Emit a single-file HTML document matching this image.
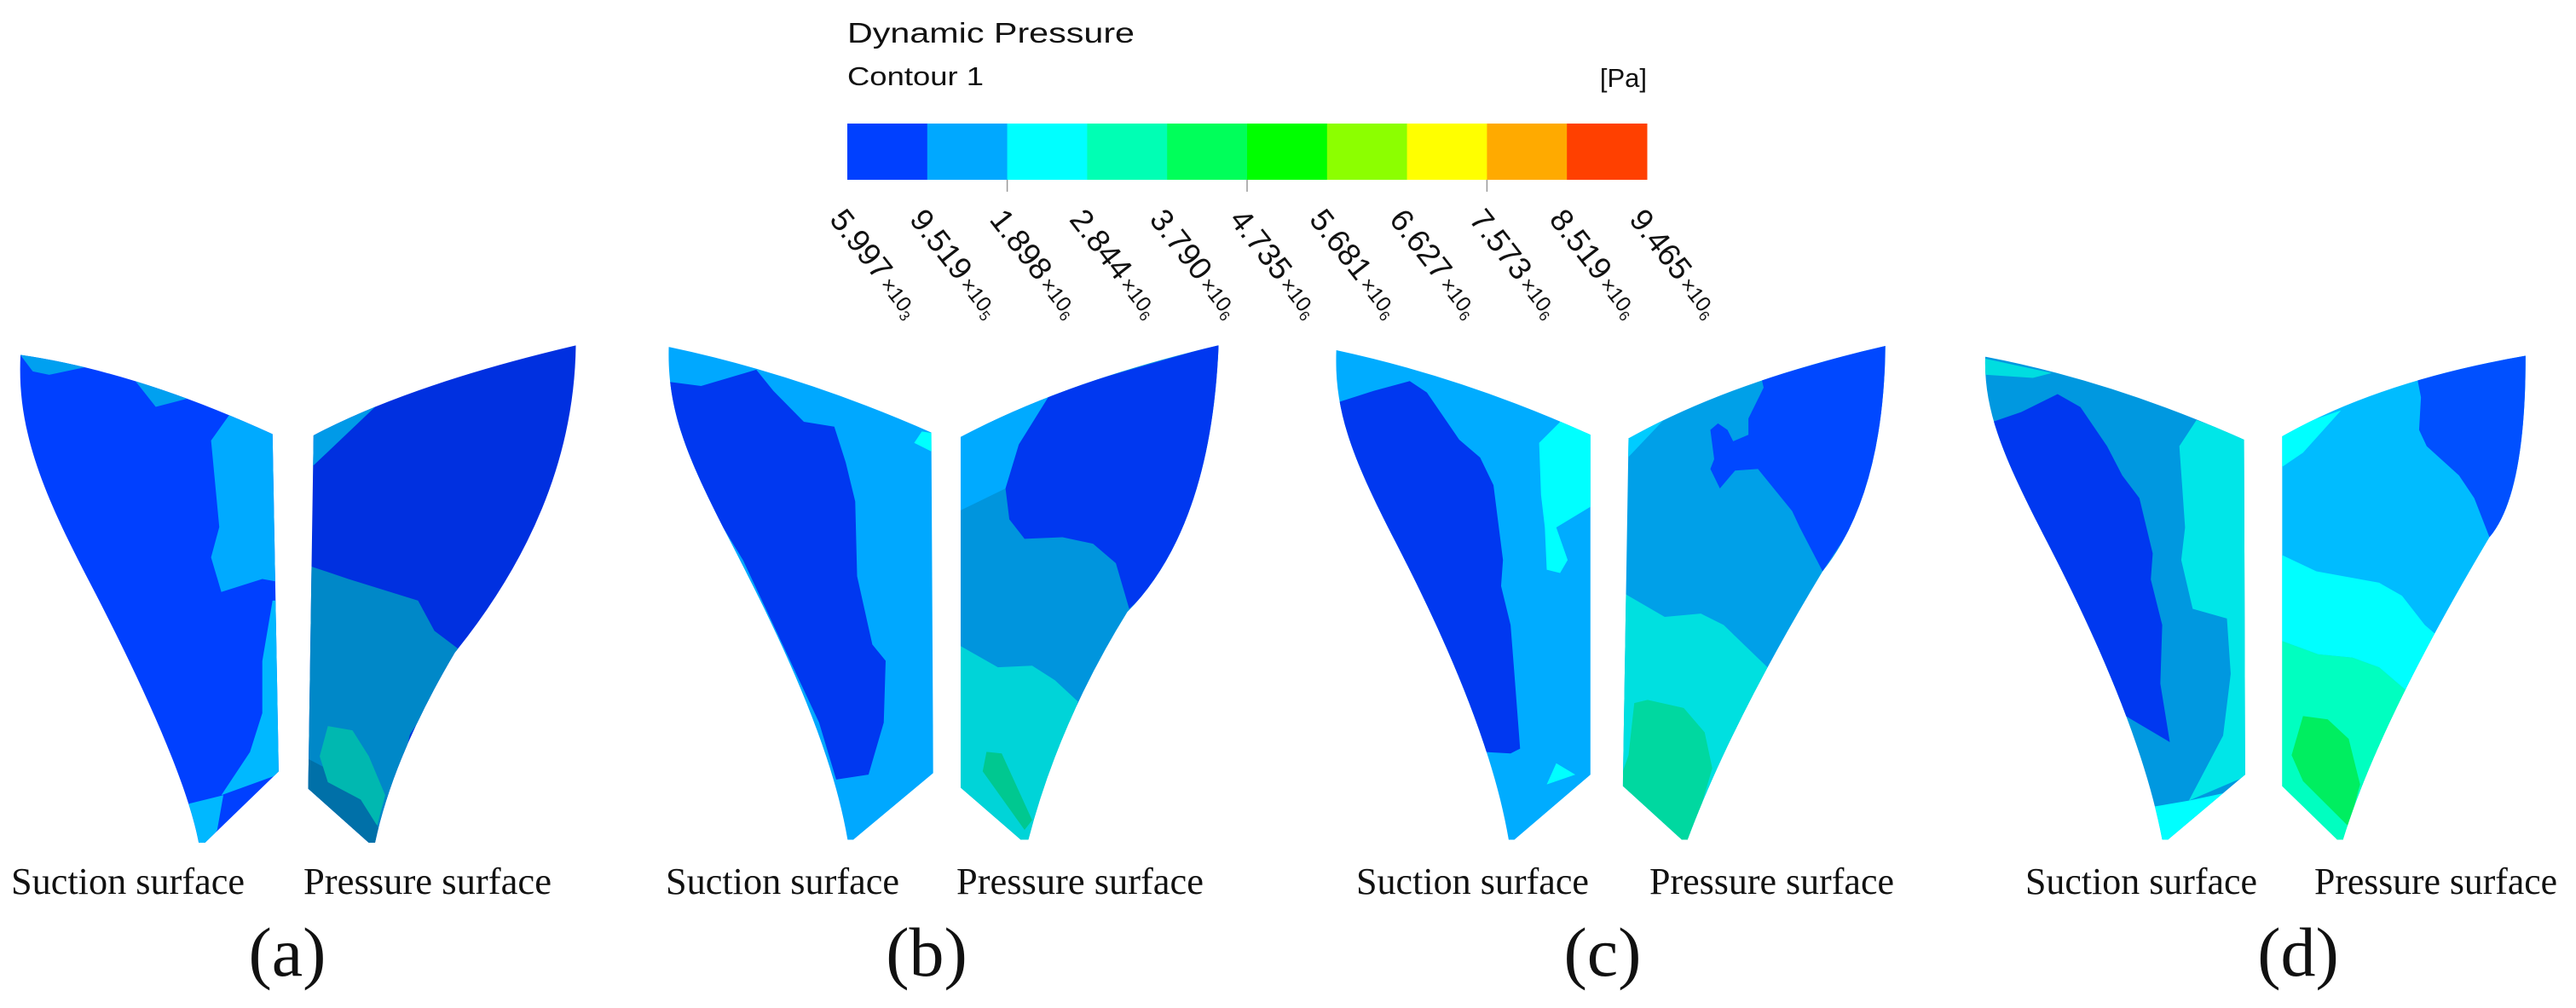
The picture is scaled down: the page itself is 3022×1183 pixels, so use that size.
<!DOCTYPE html>
<html><head><meta charset="utf-8"><style>
html,body{margin:0;padding:0;background:#fff;}
svg{display:block;}
.lbl{font-family:"Liberation Serif",serif;font-size:44px;fill:#111;}
.let{font-family:"Liberation Serif",serif;font-size:82px;fill:#111;}
.leg{font-family:"Liberation Sans",sans-serif;fill:#111;}
</style></head><body>
<svg id="fig" width="3022" height="1183" viewBox="0 0 3022 1183" xmlns="http://www.w3.org/2000/svg">
<g id="legend">
<text class="leg" x="994" y="50" font-size="33" textLength="337" lengthAdjust="spacingAndGlyphs">Dynamic Pressure</text>
<text class="leg" x="994" y="100" font-size="31" textLength="160" lengthAdjust="spacingAndGlyphs">Contour 1</text>
<text class="leg" x="1932" y="102" font-size="31" text-anchor="end">[Pa]</text>
<g id="bins"></g>
<g id="ticks"></g>
</g>

<!-- Panel a -->
<g transform="translate(0,380) scale(0.4808,0.5076)">
<clipPath id="ca1"><path d="M50,72 Q330,110 665,255 L680,1035 L500,1200 L485,1200 C455,1050 330,800 220,600 C110,400 40,250 50,72 Z"/></clipPath>
<clipPath id="ca2"><path d="M765,258 Q1000,140 1405,50 Q1400,420 1110,760 Q960,1000 915,1200 L900,1200 L752,1075 Z"/></clipPath>
<g clip-path="url(#ca1)">
<rect x="0" y="0" width="700" height="1250" fill="#0040ff"/>
<polygon fill="#00aaff" points="560,210 700,230 700,600 640,590 540,620 515,540 535,470 515,270"/>
<polygon fill="#00b8ff" points="665,640 700,640 700,1035 540,1090 610,990 640,900 640,780"/>
<polygon fill="#00b8ff" points="460,1110 545,1090 530,1170 490,1230 440,1230"/>
<polygon fill="#00a0f0" points="40,60 210,100 120,118 80,110"/>
<polygon fill="#00a0f0" points="320,120 470,170 380,192"/>
</g>
<g clip-path="url(#ca2)">
<rect x="740" y="0" width="700" height="1250" fill="#0030e0"/>
<polygon fill="#009ae8" points="740,250 940,170 740,350"/>
<polygon fill="#0088c8" points="740,555 850,590 1020,640 1060,710 1130,760 1000,950 930,1230 740,1230"/>
<polygon fill="#0070a8" points="740,1000 900,1080 940,1230 740,1230"/>
<polygon fill="#00b8b0" points="800,930 860,940 900,1000 940,1090 920,1160 880,1100 800,1060 780,1000"/>
</g>
</g>

<!-- Panel b -->
<g transform="translate(760,390) scale(0.4464,0.3817)">
<clipPath id="cb1"><path d="M55,45 Q400,130 745,308 L750,1355 L540,1560 L525,1560 C480,1250 330,900 220,650 C110,400 50,250 55,45 Z"/></clipPath>
<clipPath id="cb2"><path d="M822,322 Q1100,150 1500,40 Q1480,600 1260,860 Q1080,1200 1000,1560 L980,1560 L822,1400 Z"/></clipPath>
<g clip-path="url(#cb1)">
<rect x="0" y="0" width="800" height="1600" fill="#00a8ff"/>
<polygon fill="#0038f0" points="40,150 140,165 285,115 330,180 410,275 490,290 520,400 545,520 550,750 590,960 625,1010 620,1200 580,1360 495,1375 450,1200 250,700 40,300"/>
<polygon fill="#00ffff" points="700,340 720,305 760,312 760,375"/>
</g>
<g clip-path="url(#cb2)">
<rect x="800" y="0" width="750" height="1600" fill="#0095dd"/>
<polygon fill="#00aaff" points="800,322 1060,185 975,345 940,480 800,560"/>
<polygon fill="#0038f0" points="1060,185 1520,30 1500,600 1265,850 1230,710 1170,650 1090,630 990,635 950,575 940,480 975,345"/>
<polygon fill="#00d4d8" points="800,950 920,1030 1010,1025 1070,1070 1130,1135 1000,1600 800,1600"/>
<polygon fill="#00c890" points="890,1290 930,1295 1010,1500 990,1530 880,1350"/>
</g>
</g>

<!-- Panel c -->
<g transform="translate(1540,390) scale(0.4464,0.3817)">
<clipPath id="cc1"><path d="M62,55 Q400,140 730,315 L730,1360 L530,1560 L515,1560 C470,1250 330,900 220,650 C110,400 55,250 62,55 Z"/></clipPath>
<clipPath id="cc2"><path d="M832,325 Q1100,150 1505,42 Q1500,500 1340,735 Q1100,1200 985,1560 L970,1560 L815,1395 L830,325 Z"/></clipPath>
<g clip-path="url(#cc1)">
<rect x="0" y="0" width="800" height="1600" fill="#00acff"/>
<polygon fill="#0038f0" points="40,225 160,180 255,150 300,185 385,330 440,385 475,470 500,700 495,780 520,900 530,1050 545,1280 520,1295 445,1290 300,950 40,500"/>
<polygon fill="#00ffff" points="595,340 655,270 760,315 760,515 640,600 670,700 650,740 615,730 610,600 600,500"/>
<polygon fill="#00ffff" points="640,1325 690,1360 615,1390"/>
</g>
<g clip-path="url(#cc2)">
<rect x="800" y="0" width="750" height="1600" fill="#00a0e8"/>
<polygon fill="#00ccff" points="800,325 930,260 800,420"/>
<polygon fill="#0048ff" points="1180,145 1520,30 1500,450 1340,735 1280,600 1260,550 1170,420 1110,425 1070,480 1045,420 1055,390 1045,300 1065,280 1090,300 1105,335 1145,315 1145,265 1185,170"/>
<polygon fill="#00e0e0" points="800,790 925,875 1020,865 1080,900 1195,1030 985,1600 800,1600"/>
<polygon fill="#00d8a0" points="845,1140 880,1130 975,1155 1030,1230 1050,1340 985,1600 960,1600 800,1400 830,1300"/>
</g>
</g>

<!-- Panel d -->
<g transform="translate(2300,390) scale(0.4464,0.3817)">
<clipPath id="cd1"><path d="M65,75 Q400,150 745,330 L748,1360 L545,1560 L530,1560 C480,1250 340,900 230,650 C120,400 60,250 65,75 Z"/></clipPath>
<clipPath id="cd2"><path d="M845,320 Q1100,150 1485,72 Q1485,500 1390,630 Q1100,1200 1005,1560 L990,1560 L845,1395 Z"/></clipPath>
<g clip-path="url(#cd1)">
<rect x="0" y="0" width="800" height="1600" fill="#0098e0"/>
<polygon fill="#0038f0" points="60,285 160,245 255,190 315,230 385,350 425,440 470,510 505,680 500,760 530,900 525,1080 550,1260 420,1170 250,750 60,380"/>
<polygon fill="#00e6e8" points="575,350 620,270 760,330 760,1360 600,1440 690,1240 710,1050 700,880 610,850 580,700 590,600"/>
<polygon fill="#00ffff" points="500,1460 600,1440 760,1400 545,1600 500,1600"/>
<polygon fill="#00dde0" points="60,80 240,125 190,140 60,130"/>
</g>
<g clip-path="url(#cd2)">
<rect x="800" y="0" width="750" height="1600" fill="#00bcff"/>
<polygon fill="#00ffff" points="800,320 1000,240 900,370 800,450"/>
<polygon fill="#0050ff" points="1200,140 1520,60 1500,500 1390,630 1350,510 1310,440 1225,350 1205,300 1210,200"/>
<polygon fill="#00ffff" points="800,660 935,735 1100,770 1160,810 1220,900 1250,930 1170,1100 1100,1030 1030,1000 940,990 800,930"/>
<polygon fill="#00ffc0" points="800,930 940,990 1030,1000 1100,1030 1170,1100 1005,1600 800,1600"/>
<polygon fill="#00ee60" points="900,1180 965,1190 1020,1250 1050,1390 1020,1520 900,1380 870,1300"/>
</g>
</g>

<g>
<text class="lbl" x="13" y="1049" textLength="274" lengthAdjust="spacingAndGlyphs">Suction surface</text>
<text class="lbl" x="356" y="1049" textLength="291" lengthAdjust="spacingAndGlyphs">Pressure surface</text>
<text class="lbl" x="781" y="1049" textLength="274" lengthAdjust="spacingAndGlyphs">Suction surface</text>
<text class="lbl" x="1122" y="1049" textLength="290" lengthAdjust="spacingAndGlyphs">Pressure surface</text>
<text class="lbl" x="1591" y="1049" textLength="273" lengthAdjust="spacingAndGlyphs">Suction surface</text>
<text class="lbl" x="1935" y="1049" textLength="287" lengthAdjust="spacingAndGlyphs">Pressure surface</text>
<text class="lbl" x="2376" y="1049" textLength="272" lengthAdjust="spacingAndGlyphs">Suction surface</text>
<text class="lbl" x="2715" y="1049" textLength="285" lengthAdjust="spacingAndGlyphs">Pressure surface</text>
<text class="let" x="337" y="1145" text-anchor="middle">(a)</text>
<text class="let" x="1087" y="1145" text-anchor="middle">(b)</text>
<text class="let" x="1880" y="1145" text-anchor="middle">(c)</text>
<text class="let" x="2696" y="1145" text-anchor="middle">(d)</text>
</g>
</svg>
<script>
const binColors = ["#0040ff","#00a8ff","#00ffff","#00ffb4","#00ff5a","#00ff00","#8cff00","#ffff00","#ffaa00","#ff4000"];
const tickMantissas = ["5.997","9.519","1.898","2.844","3.790","4.735","5.681","6.627","7.573","8.519","9.465"];
const tickExponents = ["3","5","6","6","6","6","6","6","6","6","6"];
const NS = "http://www.w3.org/2000/svg";
const barX0 = 994, barX1 = 1932, barY0 = 145, barY1 = 211;
function xScale(i){ return barX0 + i*(barX1-barX0)/binColors.length; }
const bins = document.getElementById('bins');
binColors.forEach((c,i)=>{
  const r = document.createElementNS(NS,'rect');
  r.setAttribute('x', xScale(i)); r.setAttribute('y', barY0);
  r.setAttribute('width', xScale(i+1)-xScale(i)+0.5); r.setAttribute('height', barY1-barY0);
  r.setAttribute('fill', c);
  
  
  bins.appendChild(r);
});
const ticks = document.getElementById('ticks');
[2,5,8].forEach(i=>{
  const l = document.createElementNS(NS,'line');
  l.setAttribute('x1', xScale(i)); l.setAttribute('x2', xScale(i));
  l.setAttribute('y1', barY1); l.setAttribute('y2', barY1+14);
  l.setAttribute('stroke', '#999'); l.setAttribute('stroke-width', '1.5');
  
  
  ticks.appendChild(l);
});
tickMantissas.forEach((m,i)=>{
  const px = xScale(i) - 22, py = 258;
  const t = document.createElementNS(NS,'text');
  t.setAttribute('class','leg');
  t.setAttribute('x', px); t.setAttribute('y', py);
  t.setAttribute('font-size','37');
  t.setAttribute('transform','rotate(52 '+px+' '+py+')');
  
  
  const s1 = document.createElementNS(NS,'tspan'); s1.textContent = m;
  const s2 = document.createElementNS(NS,'tspan'); s2.setAttribute('font-size','25'); s2.setAttribute('dx','4'); s2.textContent = '\u00d710';
  const s3 = document.createElementNS(NS,'tspan'); s3.setAttribute('font-size','17'); s3.setAttribute('dy','5'); s3.textContent = tickExponents[i];
  t.appendChild(s1); t.appendChild(s2); t.appendChild(s3);
  ticks.appendChild(t);
});
</script>
</body></html>
